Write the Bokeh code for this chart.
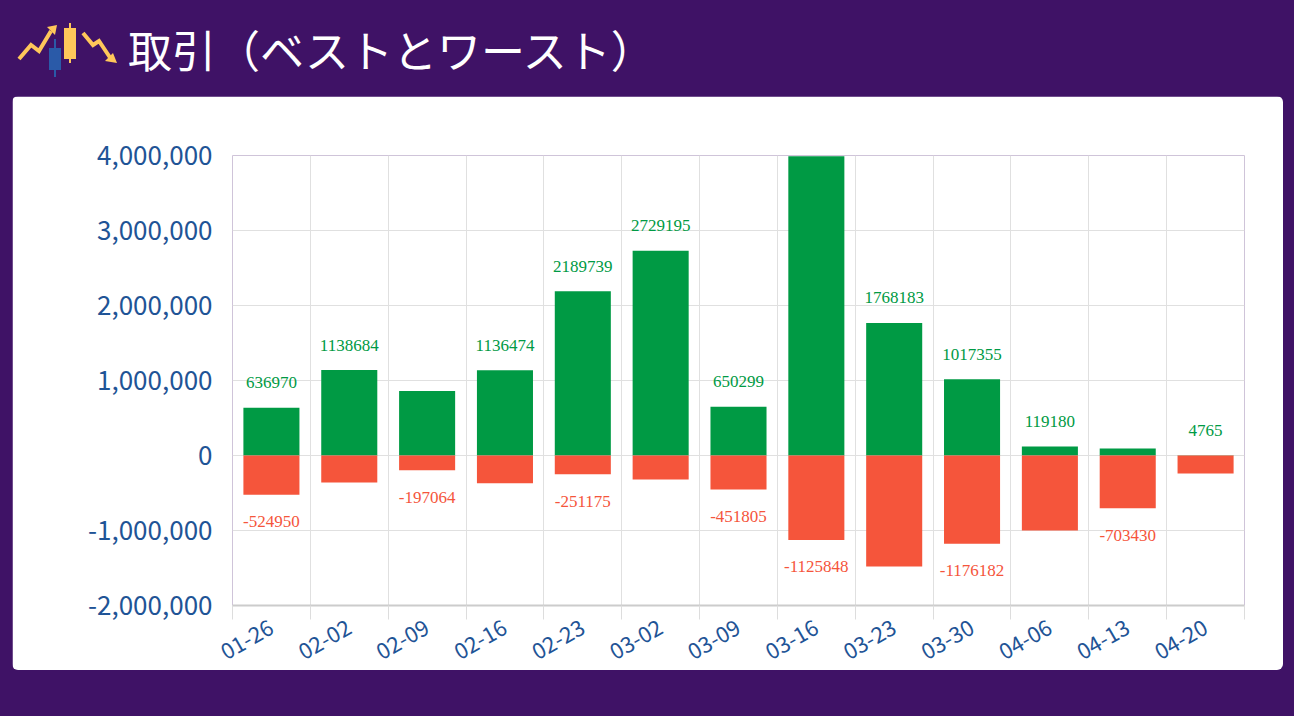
from bokeh.plotting import figure
from bokeh.models import ColumnDataSource, FixedTicker, NumeralTickFormatter, LinearAxis, Range1d, Div, LabelSet
from bokeh.layouts import column
from bokeh.embed import file_html
from bokeh.resources import INLINE

weeks = ["01-26","02-02","02-09","02-16","02-23","03-02","03-09","03-16","03-23","03-30","04-06","04-13","04-20"]
best = [636970,1138684,860000,1136474,2189739,2729195,650299,3989626,1768183,1017355,119180,95000,4765]
worst = [-524950,-360000,-197064,-370000,-251175,-320000,-451805,-1125848,-1480000,-1176182,-1000000,-703430,-240000]
best_shown = [1,1,0,1,1,1,1,1,1,1,1,0,1]
worst_shown = [1,0,1,0,1,0,1,1,0,1,0,1,0]
y_ticks = [-2000000,-1000000,0,1000000,2000000,3000000,4000000]

FONT = "Noto Sans CJK JP"
GREEN = "#009a44"
RED = "#f5553b"
BLUE = "#1f5496"
PURPLE = "#3f1266"

n = len(weeks)
xc = [i + 0.5 for i in range(n)]
src = ColumnDataSource(dict(x=xc, best=best, worst=worst, zero=[0]*n))
bl = ColumnDataSource(dict(x=[xc[i] for i in range(n) if best_shown[i]],
                           y=[best[i] for i in range(n) if best_shown[i]],
                           t=[str(best[i]) for i in range(n) if best_shown[i]]))
wl = ColumnDataSource(dict(x=[xc[i] for i in range(n) if worst_shown[i]],
                           y=[worst[i] for i in range(n) if worst_shown[i]],
                           t=[str(worst[i]) for i in range(n) if worst_shown[i]]))

p = figure(width=1271, height=598, frame_width=1012, frame_height=450,
           output_backend="svg", toolbar_location=None,
           x_range=Range1d(0, n), y_range=Range1d(-2000000, 4000000),
           min_border_left=220, min_border_right=39, min_border_top=59, min_border_bottom=20)
p.styles = {"margin-left": "12px", "border-radius": "6px", "overflow": "hidden"}
p.background_fill_color = "white"
p.border_fill_color = "white"
p.outline_line_color = None

p.vbar(x="x", top="best", bottom="zero", width=0.72, source=src, fill_color=GREEN, line_color=None)
p.vbar(x="x", top="zero", bottom="worst", width=0.72, source=src, fill_color=RED, line_color=None)
p.add_layout(LabelSet(x="x", y="y", text="t", source=bl, text_color=GREEN, text_align="center",
                      text_baseline="middle", y_offset=25, text_font=FONT, text_font_size="17px"))
p.add_layout(LabelSet(x="x", y="y", text="t", source=wl, text_color=RED, text_align="center",
                      text_baseline="middle", y_offset=-27, text_font=FONT, text_font_size="17px"))

ya = p.yaxis[0]
ya.ticker = FixedTicker(ticks=y_ticks)
ya.formatter = NumeralTickFormatter(format="0,0")
ya.axis_line_color = None
ya.major_tick_line_color = None
ya.minor_tick_line_color = None
ya.major_label_text_color = BLUE
ya.major_label_text_font = FONT
ya.major_label_text_font_size = "26px"
ya.major_label_standoff = 14

xa = p.xaxis[0]
xa.ticker = FixedTicker(ticks=list(range(n + 1)))
xa.major_label_overrides = {i: "" for i in range(n + 1)}
xa.major_label_text_font_size = "1px"
xa.axis_line_color = "#cccccc"
xa.axis_line_width = 2
xa.major_tick_line_color = "#dddddd"
xa.major_tick_out = 14
xa.major_tick_in = 0
xa.minor_tick_line_color = None
xa.major_label_standoff = 0

xl = LinearAxis(ticker=FixedTicker(ticks=xc),
                major_label_overrides={xc[i]: weeks[i] for i in range(n)})
xl.axis_line_color = None
xl.major_tick_line_color = None
xl.minor_tick_line_color = None
xl.major_label_orientation = 0.52
xl.major_label_text_color = BLUE
xl.major_label_text_font = FONT
xl.major_label_text_font_size = "22px"
xl.major_label_standoff = 0
p.add_layout(xl, "below")

p.xgrid.ticker = FixedTicker(ticks=list(range(n + 1)))
p.xgrid.grid_line_color = "#e0e0e0"
p.ygrid.grid_line_color = "#e0e0e0"

icon = ('<svg width="100" height="70" viewBox="0 0 100 70" style="position:absolute;left:12px;top:14px">'
        '<polyline points="2,40 14,26 22,32 34,12" fill="none" stroke="#ffc75a" stroke-width="4"/>'
        '<polygon points="30,8 40,6 38,16" fill="#ffc75a"/>'
        '<line x1="38" y1="20" x2="38" y2="58" stroke="#2a5aa8" stroke-width="2"/>'
        '<rect x="32" y="29" width="12" height="22" fill="#2a5aa8"/>'
        '<line x1="53" y1="4" x2="53" y2="44" stroke="#ffc75a" stroke-width="2"/>'
        '<rect x="47" y="9" width="12" height="31" fill="#ffc75a"/>'
        '<polyline points="66,14 76,26 82,22 94,40" fill="none" stroke="#ffc75a" stroke-width="4"/>'
        '<polygon points="88,42 100,44 96,34" fill="#ffc75a"/></svg>')
title = Div(text=icon + '<span style="position:absolute;left:123px;top:14px;color:white;font-size:44px;'
            'font-family:\'Noto Sans CJK JP\';white-space:nowrap;line-height:60px">取引（ベストとワースト）</span>',
            width=1294, height=86, styles={"position": "relative"})

lay = column(title, p, spacing=0)
html = file_html(lay, INLINE)
html = html.replace("</head>", "<style>html,body{background:%s !important;margin:0 !important;}</style></head>" % PURPLE, 1)
open("out.html", "w").write(html)
